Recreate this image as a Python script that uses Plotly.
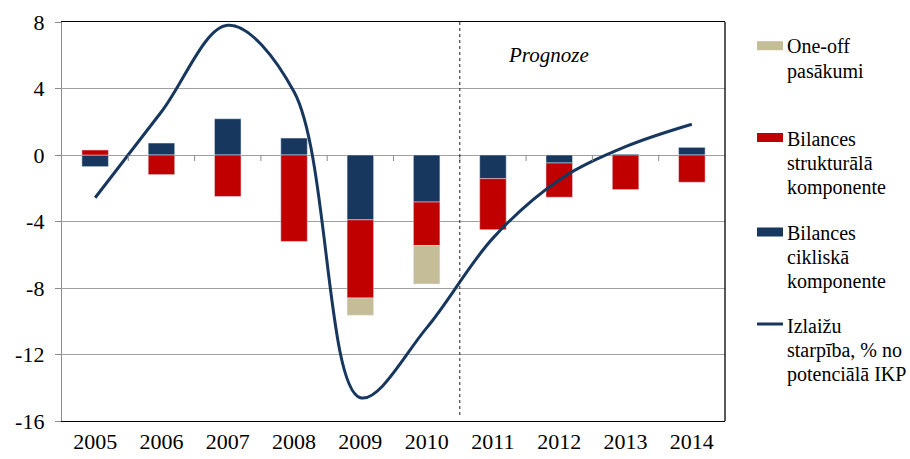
import plotly.graph_objects as go

years = ["2005", "2006", "2007", "2008", "2009", "2010", "2011", "2012", "2013", "2014"]
cyclical = [-0.7, 0.72, 2.18, 1.02, -3.9, -2.83, -1.42, -0.48, 0.06, 0.46]
structural = [0.3, -1.18, -2.5, -5.2, -4.7, -2.62, -3.07, -2.06, -2.08, -1.64]
one_off = [None, None, None, None, -1.04, -2.31, None, None, None, None]
output_gap = [-2.57, 2.6, 7.8, 3.8, -14.6, -10.4, -5.0, -1.5, 0.5, 1.85]
y_ticks = [-16, -12, -8, -4, 0, 4, 8]
y_tick_labels = ["-16", "-12", "-8", "-4", "0", "4", "8"]

NAVY = "#17375E"
RED = "#C00000"
TAN = "#C4BD97"
FONT = "Liberation Serif, Times New Roman, serif"

# plot area sits at x 62..725, y 22..421 in the 910x459 window
PX0, PX1, PY0, PY1 = 62, 725, 22, 421
W, H = 910, 459
PW, PH = PX1 - PX0, PY1 - PY0


def px(x):
    return (x - PX0) / PW


def py(y):
    return (PY1 - y) / PH


fig = go.Figure()
fig.add_trace(go.Bar(x=years, y=cyclical, marker_color=NAVY, name="Bilances cikliskā komponente"))
fig.add_trace(go.Bar(x=years, y=structural, marker_color=RED, name="Bilances strukturālā komponente"))
fig.add_trace(go.Bar(x=years, y=one_off, marker_color=TAN, name="One-off pasākumi"))
fig.add_trace(go.Scatter(x=years, y=output_gap, mode="lines",
                         line=dict(color=NAVY, width=3, shape="spline", smoothing=1),
                         name="Izlaižu starpība, % no potenciālā IKP"))

shapes = []
for i in range(len(years) - 1):
    shapes.append(dict(type="line", xref="x", yref="y", x0=i + 0.5, x1=i + 0.5,
                       ysizemode="pixel", yanchor=0, y0=0, y1=-6,
                       line=dict(color="#8c8c8c", width=1)))
shapes.append(dict(type="line", xref="x", yref="paper", x0=5.5, x1=5.5, y0=py(415), y1=1,
                   line=dict(color="#222222", width=1, dash="3px,3px")))
shapes.append(dict(type="line", xref="paper", yref="paper", x0=1, x1=1, y0=0, y1=1,
                   line=dict(color="#000000", width=1.3)))

legend_items = [
    (TAN, "rect", 45.7, ["One-off", "pasākumi"], [46, 71.5]),
    (RED, "rect", 137.5, ["Bilances", "strukturālā", "komponente"], [139, 163, 187.5]),
    (NAVY, "rect", 232, ["Bilances", "cikliskā", "komponente"], [232.5, 257, 281.5]),
    (NAVY, "line", 324, ["Izlaižu", "starpība, % no", "potenciālā IKP"], [326, 350, 374]),
]
annotations = []
for color, kind, yc, lines, ys in legend_items:
    if kind == "rect":
        shapes.append(dict(type="rect", xref="paper", yref="paper",
                           x0=px(757), x1=px(783), y0=py(yc + 4.5), y1=py(yc - 4.5),
                           fillcolor=color, line=dict(width=0)))
    else:
        shapes.append(dict(type="line", xref="paper", yref="paper",
                           x0=px(757), x1=px(783), y0=py(yc), y1=py(yc),
                           line=dict(color=color, width=3)))
    for t, yy in zip(lines, ys):
        annotations.append(dict(text=t, xref="paper", yref="paper",
                                x=px(785), y=py(yy),
                                xanchor="left", yanchor="middle", showarrow=False,
                                font=dict(family=FONT, size=20, color="#000000")))

annotations.append(dict(text="<i>Prognoze</i>", xref="paper", yref="paper", x=px(548), y=py(55),
                        xanchor="center", yanchor="middle", showarrow=False,
                        font=dict(family=FONT, size=21, color="#000000")))

fig.update_layout(
    width=W, height=H,
    margin=dict(l=PX0, r=W - PX1, t=PY0, b=H - PY1, pad=0),
    barmode="relative", bargap=0.6,
    plot_bgcolor="#ffffff", paper_bgcolor="#ffffff",
    showlegend=False,
    font=dict(family=FONT, size=22, color="#000000"),
    shapes=shapes, annotations=annotations,
    xaxis=dict(type="category", range=[-0.5, 9.5], showgrid=False, ticks="",
               showline=True, linecolor="#000000", linewidth=1.3, mirror=True,
               tickfont=dict(family=FONT, size=22), ticklabelstandoff=0, automargin=False),
    yaxis=dict(range=[-16, 8], tickvals=y_ticks, ticktext=y_tick_labels,
               showgrid=True, gridcolor="#a0a0a0", gridwidth=1,
               zeroline=True, zerolinecolor="#a0a0a0", zerolinewidth=1,
               showline=True, linecolor="#8c8c8c", linewidth=1.3,
               ticks="outside", ticklen=6, tickcolor="#8c8c8c",
               tickfont=dict(family=FONT, size=22), ticklabelstandoff=6, automargin=False),
)

fig.write_html("out.html",
               config={"displayModeBar": False},
               post_script="document.body.style.margin='0';document.body.style.overflow='hidden';")
